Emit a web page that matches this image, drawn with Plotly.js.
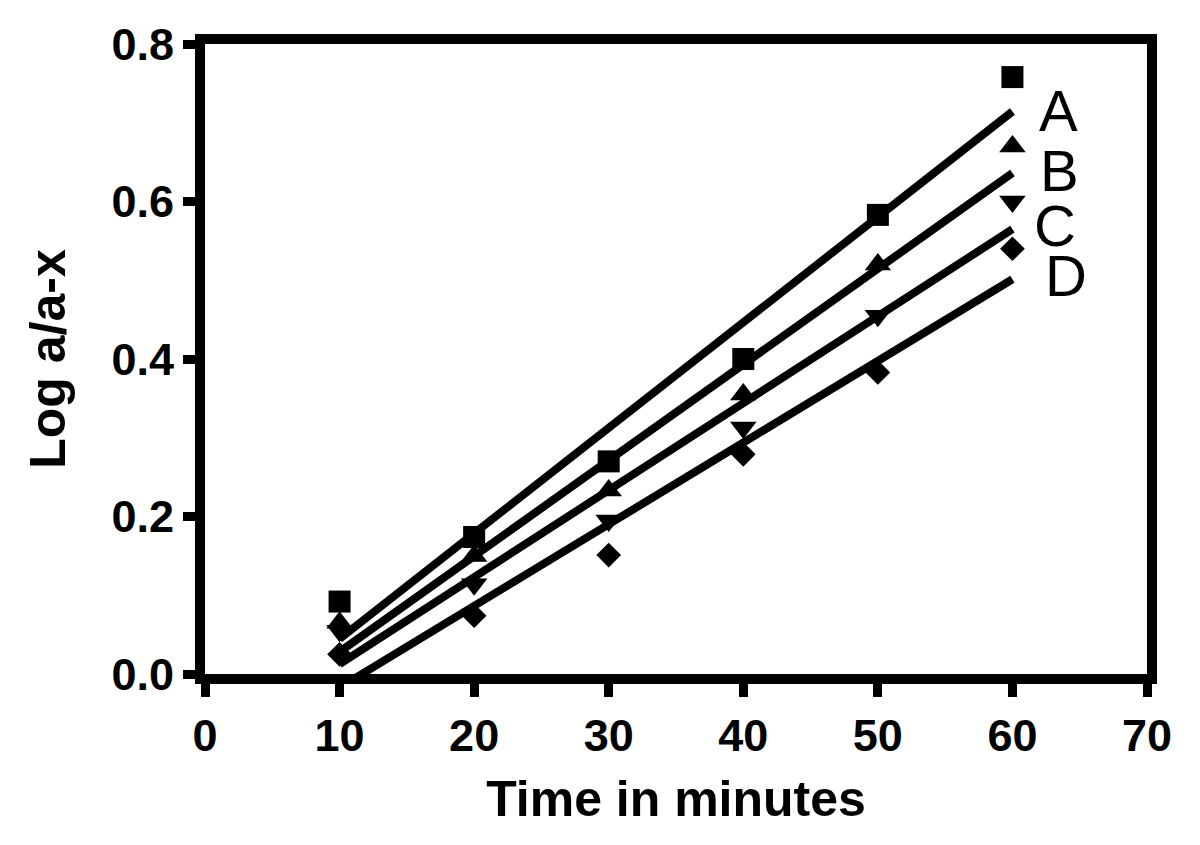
<!DOCTYPE html>
<html>
<head>
<meta charset="utf-8">
<script src="https://cdn.plot.ly/plotly-3.0.1.min.js"></script>
<style>html,body{margin:0;padding:0;background:#fff;}#chart{width:1200px;height:845px;}</style>
</head>
<body>
<div id="chart"></div>
<script>
var timeMin = [10, 20, 30, 40, 50, 60];
var seriesA = [0.092, 0.174, 0.270, 0.400, 0.583, 0.758];
var seriesB = [0.065, 0.150, 0.233, 0.355, 0.520, 0.670];
var seriesC = [0.055, 0.114, 0.195, 0.313, 0.455, 0.600];
var seriesD = [0.025, 0.074, 0.151, 0.279, 0.383, 0.540];
var seriesNames = ['A', 'B', 'C', 'D'];
var xTicks = [0, 10, 20, 30, 40, 50, 60, 70];
var yTicks = [0.0, 0.2, 0.4, 0.6, 0.8];
var yTickLabels = ['0.0', '0.2', '0.4', '0.6', '0.8'];
var labelX = [63.4, 63.5, 63.2, 64.0];
var labelY = [0.716, 0.640, 0.569, 0.506];

var allSeries = [seriesA, seriesB, seriesC, seriesD];
var symbols = ['square', 'triangle-up', 'triangle-down', 'diamond'];
var sizes = [22, 23, 23, 19];

function linFit(xs, ys) {
  var n = xs.length, mx = 0, my = 0;
  for (var i = 0; i < n; i++) { mx += xs[i]; my += ys[i]; }
  mx /= n; my /= n;
  var sxy = 0, sxx = 0;
  for (var j = 0; j < n; j++) { sxy += (xs[j] - mx) * (ys[j] - my); sxx += (xs[j] - mx) * (xs[j] - mx); }
  var b = sxy / sxx;
  return { slope: b, intercept: my - b * mx };
}

var traces = [];
var x0 = timeMin[0], x1 = timeMin[timeMin.length - 1];
allSeries.forEach(function (s, k) {
  var f = linFit(timeMin, s);
  traces.push({
    x: [x0, x1], y: [f.intercept + f.slope * x0, f.intercept + f.slope * x1],
    mode: 'lines', line: { color: '#000', width: 8 }, hoverinfo: 'skip', showlegend: false
  });
});
allSeries.forEach(function (s, k) {
  traces.push({
    x: timeMin, y: s, name: seriesNames[k], mode: 'markers',
    marker: { symbol: symbols[k], size: sizes[k], color: '#000', line: { width: 0 } },
    showlegend: false, cliponaxis: false
  });
});

var annotations = seriesNames.map(function (n, k) {
  return {
    x: labelX[k], y: labelY[k], xref: 'x', yref: 'y', text: n, showarrow: false,
    font: { family: 'Liberation Sans, Arial, sans-serif', size: 58, color: '#000' },
    xanchor: 'center', yanchor: 'middle'
  };
});

var tickFont = { family: 'Liberation Sans, Arial, sans-serif', size: 45, color: '#000', weight: 'bold' };
var titleFont = { family: 'Liberation Sans, Arial, sans-serif', size: 50, color: '#000', weight: 'bold' };

var layout = {
  width: 1200, height: 845,
  margin: { l: 205, r: 53, t: 44, b: 171 },
  paper_bgcolor: '#fff', plot_bgcolor: '#fff',
  showlegend: false,
  xaxis: {
    range: [0, 70], tickvals: xTicks, ticktext: xTicks.map(String),
    showgrid: false, zeroline: false, showline: true, linecolor: '#000', linewidth: 10, mirror: true,
    ticks: 'outside', ticklen: 13, tickwidth: 9, tickcolor: '#000',
    tickfont: tickFont,
    title: { text: 'Time in minutes', font: titleFont, standoff: 25 }
  },
  yaxis: {
    range: [0, 0.8], tickvals: yTicks, ticktext: yTickLabels,
    showgrid: false, zeroline: false, showline: true, linecolor: '#000', linewidth: 10, mirror: true,
    ticks: 'outside', ticklen: 12, tickwidth: 9, tickcolor: '#000',
    tickfont: tickFont,
    title: { text: 'Log a/a-x', font: titleFont, standoff: 34 }
  },
  annotations: annotations
};

Plotly.newPlot('chart', traces, layout, { staticPlot: true, displayModeBar: false });
</script>
</body>
</html>
